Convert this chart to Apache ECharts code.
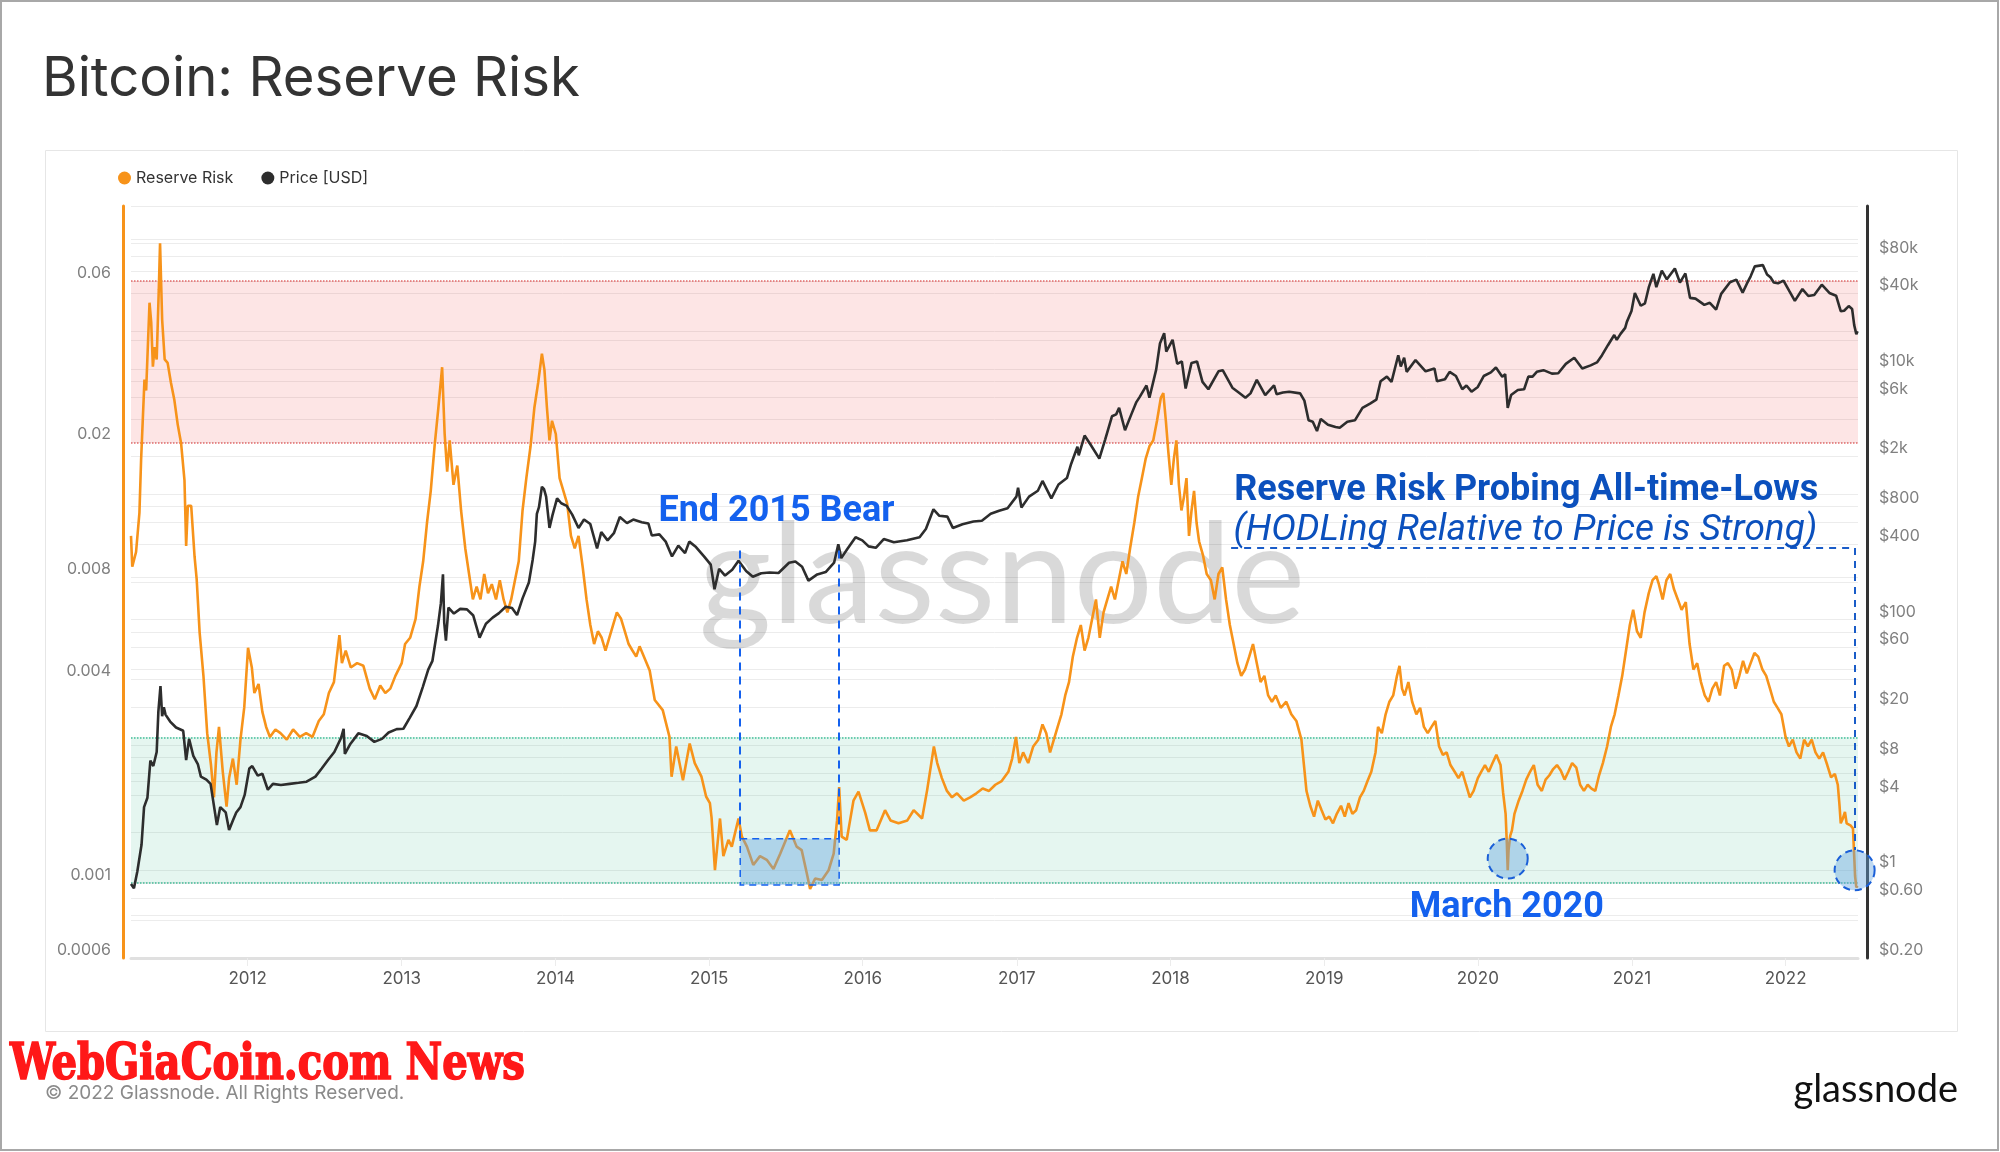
<!DOCTYPE html>
<html><head><meta charset="utf-8">
<script src="https://cdn.jsdelivr.net/npm/echarts@6/dist/echarts.min.js"></script>
<style>html,body{margin:0;padding:0;background:#fff}#c{width:2000px;height:1152px}</style>
</head><body><div id="c"></div>
<script>
// ---------------- data ----------------
const reserveRisk = [
['2011-03-30',0.0106],['2011-04-02',0.0086],['2011-04-11',0.0095],['2011-04-19',0.0124],['2011-04-23',0.0178],['2011-05-01',0.0307],['2011-05-05',0.0285],['2011-05-13',0.0518],['2011-05-17',0.0453],['2011-05-21',0.0335],['2011-05-25',0.0383],['2011-05-30',0.0352],['2011-06-04',0.0566],['2011-06-07',0.0776],['2011-06-12',0.0461],['2011-06-18',0.0352],['2011-06-25',0.0344],['2011-07-03',0.0300],['2011-07-11',0.0267],['2011-07-19',0.0226],['2011-07-27',0.0199],['2011-08-04',0.0155],['2011-08-08',0.0099],['2011-08-12',0.0130],['2011-08-20',0.0130],['2011-08-28',0.0092],['2011-09-02',0.0079],['2011-09-09',0.0055],['2011-09-18',0.0041],['2011-09-27',0.00277],['2011-10-06',0.00223],['2011-10-13',0.00179],['2011-10-19',0.00243],['2011-10-25',0.00289],['2011-11-03',0.00213],['2011-11-12',0.00168],['2011-11-18',0.00204],['2011-11-27',0.00233],['2011-12-06',0.00195],['2011-12-15',0.00265],['2011-12-24',0.00330],
['2012-01-02',0.00495],['2012-01-11',0.00433],['2012-01-17',0.00364],['2012-01-27',0.00387],['2012-02-05',0.0032],['2012-02-14',0.00289],['2012-02-23',0.0027],['2012-03-07',0.00284],['2012-03-19',0.00277],['2012-04-03',0.00265],['2012-04-18',0.00284],['2012-05-04',0.0027],['2012-05-19',0.00277],['2012-06-03',0.0027],['2012-06-18',0.00301],['2012-06-30',0.00315],['2012-07-12',0.00364],['2012-07-24',0.00392],['2012-08-06',0.0054],['2012-08-12',0.00446],['2012-08-21',0.00486],['2012-09-02',0.00433],['2012-09-17',0.00446],['2012-10-02',0.00438],['2012-10-17',0.00375],['2012-10-29',0.00349],['2012-11-11',0.00383],['2012-11-23',0.00364],['2012-12-05',0.00375],['2012-12-17',0.00409],
['2013-01-01',0.00446],['2013-01-09',0.00508],['2013-01-21',0.0053],['2013-02-03',0.00603],['2013-02-12',0.0075],['2013-02-21',0.00892],['2013-03-02',0.01157],['2013-03-11',0.0144],['2013-03-20',0.0195],['2013-03-29',0.0253],['2013-04-07',0.0334],['2013-04-13',0.0212],['2013-04-19',0.0164],['2013-04-25',0.0203],['2013-05-04',0.015],['2013-05-13',0.0171],['2013-05-22',0.0126],['2013-06-01',0.00973],['2013-06-10',0.00818],['2013-06-19',0.00688],['2013-06-28',0.0075],['2013-07-07',0.00688],['2013-07-16',0.00818],['2013-07-25',0.00718],['2013-08-03',0.00763],['2013-08-13',0.00688],['2013-08-22',0.00784],['2013-08-31',0.00688],['2013-09-09',0.0063],['2013-09-18',0.00688],['2013-09-27',0.00784],['2013-10-06',0.00892],['2013-10-15',0.0126],['2013-10-24',0.0157],['2013-11-03',0.0195],['2013-11-12',0.0253],['2013-11-21',0.03],['2013-11-30',0.0366],['2013-12-06',0.0328],['2013-12-12',0.0253],['2013-12-18',0.0203],['2013-12-24',0.0232],
['2014-01-02',0.0212],['2014-01-11',0.0157],['2014-01-20',0.0144],['2014-01-29',0.0132],['2014-02-07',0.0106],['2014-02-16',0.00973],['2014-02-25',0.0106],['2014-03-07',0.00855],['2014-03-16',0.00688],['2014-03-25',0.00578],['2014-04-03',0.00508],['2014-04-12',0.00554],['2014-04-21',0.0053],['2014-04-30',0.00486],['2014-05-09',0.0053],['2014-05-18',0.00578],['2014-05-27',0.0063],['2014-06-06',0.00603],['2014-06-15',0.00554],['2014-06-24',0.00508],['2014-07-03',0.00486],['2014-07-12',0.00466],['2014-07-20',0.005],['2014-08-13',0.00424],['2014-08-25',0.00347],['2014-09-13',0.00324],['2014-09-29',0.0027],['2014-10-04',0.00206],['2014-10-15',0.00253],['2014-10-31',0.00201],['2014-11-16',0.00258],['2014-11-28',0.00226],['2014-12-14',0.00206],['2014-12-25',0.0018],
['2015-01-03',0.00172],['2015-01-07',0.00156],['2015-01-15',0.00109],['2015-01-27',0.00155],['2015-02-04',0.0012],['2015-02-16',0.00134],['2015-02-24',0.00128],['2015-03-12',0.00155],['2015-03-20',0.00137],['2015-04-01',0.00128],['2015-04-16',0.00113],['2015-05-02',0.0012],['2015-05-18',0.00117],['2015-06-03',0.0011],['2015-06-19',0.00122],['2015-07-12',0.00143],['2015-07-28',0.00128],['2015-08-09',0.00125],['2015-08-21',0.00107],['2015-08-29',0.00096],['2015-09-10',0.00103],['2015-09-26',0.00102],['2015-10-12',0.00109],['2015-10-24',0.00122],['2015-11-01',0.00153],['2015-11-06',0.00192],['2015-11-12',0.00137],['2015-11-24',0.00134],['2015-12-10',0.00175],['2015-12-22',0.00186],
['2016-01-07',0.00161],['2016-01-18',0.00143],['2016-02-03',0.00143],['2016-02-23',0.00164],['2016-03-07',0.00153],['2016-03-26',0.0015],['2016-04-16',0.00153],['2016-05-01',0.00164],['2016-05-21',0.00155],['2016-06-02',0.00188],['2016-06-18',0.00253],['2016-06-26',0.00226],['2016-07-07',0.00204],['2016-07-19',0.00187],['2016-07-31',0.00179],['2016-08-12',0.00184],['2016-08-28',0.00175],['2016-09-12',0.00179],['2016-09-27',0.00184],['2016-10-12',0.0019],['2016-10-27',0.00187],['2016-11-11',0.00195],['2016-11-26',0.002],['2016-12-12',0.00213],['2016-12-21',0.00233],['2016-12-30',0.0027],
['2017-01-07',0.00226],['2017-01-16',0.00243],['2017-01-28',0.00226],['2017-02-09',0.00253],['2017-02-21',0.00265],['2017-03-03',0.00294],['2017-03-12',0.00277],['2017-03-21',0.00243],['2017-03-30',0.00265],['2017-04-08',0.00289],['2017-04-17',0.00315],['2017-04-26',0.00358],['2017-05-05',0.00392],['2017-05-14',0.00466],['2017-05-24',0.0053],['2017-06-02',0.00578],['2017-06-11',0.00486],['2017-06-20',0.0053],['2017-06-29',0.00603],['2017-07-08',0.00688],['2017-07-17',0.0053],['2017-07-26',0.0063],['2017-08-04',0.00688],['2017-08-13',0.0075],['2017-08-22',0.00688],['2017-08-31',0.00784],['2017-09-09',0.00892],['2017-09-18',0.00818],['2017-09-27',0.00973],['2017-10-07',0.01157],['2017-10-16',0.0138],['2017-10-25',0.0157],['2017-11-03',0.0179],['2017-11-12',0.0195],['2017-11-21',0.0203],['2017-11-30',0.0232],['2017-12-09',0.0271],['2017-12-15',0.028],['2017-12-21',0.0232],['2017-12-27',0.0187],
['2018-01-03',0.015],['2018-01-09',0.0179],['2018-01-15',0.0203],['2018-01-21',0.015],['2018-01-27',0.0126],['2018-02-02',0.0138],['2018-02-08',0.0157],['2018-02-14',0.0106],['2018-02-20',0.0126],['2018-02-26',0.0144],['2018-03-04',0.01157],['2018-03-10',0.0102],['2018-03-19',0.00932],['2018-03-28',0.00818],['2018-04-07',0.00784],['2018-04-16',0.00688],['2018-04-25',0.00818],['2018-05-04',0.00855],['2018-05-13',0.00688],['2018-05-22',0.00578],['2018-05-31',0.00508],['2018-06-09',0.00446],['2018-06-18',0.00409],['2018-06-27',0.00427],['2018-07-07',0.00466],['2018-07-16',0.00508],['2018-07-25',0.00446],['2018-08-03',0.00392],['2018-08-12',0.00409],['2018-08-21',0.00358],['2018-08-30',0.00343],['2018-09-08',0.00358],['2018-09-20',0.00329],['2018-10-03',0.00343],['2018-10-15',0.00315],['2018-10-27',0.00301],['2018-11-08',0.00265],['2018-11-14',0.00223],['2018-11-20',0.00187],['2018-11-29',0.00169],['2018-12-08',0.00157],['2018-12-17',0.00175],['2018-12-26',0.00164],
['2019-01-04',0.00154],['2019-01-13',0.00157],['2019-01-22',0.0015],['2019-01-31',0.0016],['2019-02-10',0.00169],['2019-02-19',0.00157],['2019-02-28',0.00172],['2019-03-09',0.0016],['2019-03-18',0.00164],['2019-03-27',0.00179],['2019-04-05',0.00187],['2019-04-14',0.002],['2019-04-23',0.00213],['2019-05-03',0.00243],['2019-05-09',0.00289],['2019-05-18',0.00277],['2019-05-27',0.00315],['2019-06-05',0.00343],['2019-06-14',0.00358],['2019-06-23',0.00409],['2019-06-29',0.00438],['2019-07-05',0.00375],['2019-07-11',0.00358],['2019-07-20',0.00392],['2019-07-29',0.00343],['2019-08-08',0.00315],['2019-08-17',0.00329],['2019-08-26',0.00289],['2019-09-04',0.00277],['2019-09-13',0.00289],['2019-09-22',0.00301],['2019-10-01',0.00253],['2019-10-10',0.00239],['2019-10-19',0.00243],['2019-10-28',0.00223],['2019-11-07',0.00213],['2019-11-16',0.00204],['2019-11-25',0.00213],['2019-12-04',0.00195],['2019-12-13',0.00179],['2019-12-22',0.00187],
['2020-01-01',0.00204],['2020-01-09',0.00213],['2020-01-18',0.00223],['2020-01-27',0.00213],['2020-02-05',0.00226],['2020-02-14',0.00239],['2020-02-24',0.00223],['2020-03-01',0.00185],['2020-03-07',0.0016],['2020-03-10',0.0013],['2020-03-12',0.00109],['2020-03-14',0.00125],['2020-03-18',0.00138],['2020-03-22',0.00143],['2020-03-28',0.0016],['2020-04-07',0.00175],['2020-04-16',0.00187],['2020-04-25',0.00202],['2020-05-04',0.00213],['2020-05-13',0.00223],['2020-05-22',0.00195],['2020-06-01',0.00187],['2020-06-10',0.00202],['2020-06-19',0.00208],['2020-06-28',0.00217],['2020-07-07',0.00223],['2020-07-16',0.00215],['2020-07-25',0.00202],['2020-08-03',0.00213],['2020-08-12',0.00226],['2020-08-22',0.00219],['2020-08-31',0.00195],['2020-09-09',0.00187],['2020-09-18',0.00195],['2020-09-27',0.0019],['2020-10-06',0.00187],['2020-10-15',0.00208],['2020-10-24',0.00226],['2020-11-03',0.00253],['2020-11-12',0.00289],['2020-11-21',0.00315],['2020-11-30',0.00358],['2020-12-09',0.00409],['2020-12-18',0.00486],['2020-12-27',0.00578],
['2021-01-04',0.00641],['2021-01-13',0.00554],['2021-01-22',0.0053],['2021-01-31',0.0063],['2021-02-10',0.00718],['2021-02-19',0.00784],['2021-02-28',0.00806],['2021-03-06',0.00763],['2021-03-15',0.00688],['2021-03-24',0.00784],['2021-04-02',0.00818],['2021-04-11',0.00737],['2021-04-20',0.00688],['2021-04-29',0.00641],['2021-05-09',0.00676],['2021-05-18',0.00508],['2021-05-27',0.00427],['2021-06-05',0.00446],['2021-06-14',0.00392],['2021-06-23',0.00358],['2021-07-02',0.00343],['2021-07-11',0.00375],['2021-07-20',0.00392],['2021-07-29',0.00358],['2021-08-08',0.00438],['2021-08-17',0.00446],['2021-08-26',0.00427],['2021-09-04',0.00375],['2021-09-13',0.00409],['2021-09-22',0.00453],['2021-10-01',0.00416],['2021-10-10',0.00446],['2021-10-19',0.00478],['2021-10-28',0.00466],['2021-11-07',0.00427],['2021-11-16',0.00409],['2021-11-25',0.00375],['2021-12-04',0.00343],['2021-12-13',0.00329],['2021-12-22',0.00315],
['2022-01-01',0.0027],['2022-01-09',0.00253],['2022-01-18',0.00265],['2022-01-27',0.00243],['2022-02-05',0.00233],['2022-02-14',0.00265],['2022-02-23',0.00253],['2022-03-04',0.00265],['2022-03-13',0.00243],['2022-03-22',0.00233],['2022-03-31',0.00243],['2022-04-10',0.00223],['2022-04-19',0.00205],['2022-04-28',0.0021],['2022-05-05',0.00195],['2022-05-09',0.0017],['2022-05-12',0.0015],['2022-05-17',0.00155],['2022-05-22',0.00162],['2022-05-26',0.0015],['2022-06-04',0.00148],['2022-06-10',0.00145],['2022-06-13',0.0012],['2022-06-15',0.00105],['2022-06-18',0.00097],['2022-06-21',0.00098]
];

const priceUsd = [
['2011-03-30',0.78],['2011-04-06',0.72],['2011-04-14',0.98],['2011-04-24',1.6],['2011-04-30',3.2],['2011-05-08',3.8],['2011-05-15',7.5],['2011-05-22',6.8],['2011-05-30',8.8],['2011-06-03',18.5],['2011-06-08',29.6],['2011-06-12',17],['2011-06-16',20],['2011-06-20',17.5],['2011-07-01',15.4],['2011-07-15',13.8],['2011-08-01',13],['2011-08-08',7.6],['2011-08-15',11.2],['2011-08-25',8.2],['2011-09-05',7],['2011-09-12',5.6],['2011-09-25',5.3],['2011-10-05',4.9],['2011-10-20',2.3],['2011-10-28',3.2],['2011-11-10',2.9],['2011-11-18',2.1],['2011-11-27',2.5],['2011-12-05',2.9],['2011-12-15',3.2],['2011-12-25',4.0],
['2012-01-05',6.5],['2012-01-12',6.8],['2012-01-25',5.7],['2012-02-05',5.9],['2012-02-18',4.4],['2012-03-01',4.9],['2012-03-20',4.8],['2012-04-10',4.9],['2012-05-01',5.0],['2012-05-20',5.1],['2012-06-10',5.6],['2012-06-25',6.5],['2012-07-10',7.6],['2012-07-25',8.8],['2012-08-10',11.4],['2012-08-16',13.5],['2012-08-19',8.5],['2012-09-01',10.2],['2012-09-20',12.4],['2012-10-10',11.8],['2012-10-28',10.6],['2012-11-15',11.2],['2012-12-01',12.6],['2012-12-20',13.4],
['2013-01-05',13.5],['2013-01-20',16.5],['2013-02-05',20.5],['2013-02-20',29],['2013-03-05',40],['2013-03-15',47],['2013-03-28',89],['2013-04-04',135],['2013-04-09',230],['2013-04-12',95],['2013-04-16',68],['2013-04-22',125],['2013-05-05',112],['2013-05-20',122],['2013-06-05',121],['2013-06-20',108],['2013-07-05',72],['2013-07-20',93],['2013-08-05',104],['2013-08-20',113],['2013-09-05',127],['2013-09-20',124],['2013-10-02',109],['2013-10-15',148],['2013-10-30',198],['2013-11-08',300],['2013-11-14',420],['2013-11-18',700],['2013-11-23',790],['2013-11-30',1150],['2013-12-05',1100],['2013-12-10',960],['2013-12-18',540],['2013-12-25',680],
['2014-01-05',930],['2014-01-15',850],['2014-01-28',810],['2014-02-10',690],['2014-02-25',540],['2014-03-10',630],['2014-03-25',580],['2014-04-10',370],['2014-04-20',500],['2014-05-05',430],['2014-05-20',490],['2014-06-03',660],['2014-06-20',590],['2014-07-05',630],['2014-07-25',600],['2014-08-10',585],['2014-08-18',470],['2014-09-05',480],['2014-09-20',420],['2014-10-05',320],['2014-10-20',390],['2014-11-05',340],['2014-11-15',420],['2014-12-01',380],['2014-12-20',320],
['2015-01-05',275],['2015-01-14',175],['2015-01-25',255],['2015-02-08',225],['2015-02-25',250],['2015-03-12',295],['2015-03-30',245],['2015-04-15',220],['2015-05-05',235],['2015-05-25',238],['2015-06-15',236],['2015-07-10',285],['2015-07-25',292],['2015-08-10',265],['2015-08-25',205],['2015-09-15',230],['2015-10-05',240],['2015-10-25',285],['2015-11-04',400],['2015-11-11',310],['2015-11-25',365],['2015-12-15',455],['2015-12-31',430],
['2016-01-15',385],['2016-02-01',375],['2016-02-20',440],['2016-03-15',415],['2016-04-15',430],['2016-05-15',455],['2016-05-30',530],['2016-06-17',760],['2016-07-01',675],['2016-07-20',665],['2016-08-02',540],['2016-08-25',578],['2016-09-20',608],['2016-10-10',617],['2016-10-31',700],['2016-11-20',740],['2016-12-10',775],['2016-12-31',960],
['2017-01-04',1130],['2017-01-12',785],['2017-01-30',960],['2017-02-20',1070],['2017-03-03',1280],['2017-03-24',930],['2017-04-10',1200],['2017-04-30',1350],['2017-05-10',1750],['2017-05-25',2400],['2017-05-28',2050],['2017-06-11',2950],['2017-06-25',2500],['2017-07-16',1930],['2017-07-30',2750],['2017-08-15',4200],['2017-08-25',4350],['2017-09-01',4900],['2017-09-15',3250],['2017-09-30',4350],['2017-10-12',5450],['2017-10-20',6000],['2017-11-05',7400],['2017-11-12',5900],['2017-11-28',9900],['2017-12-07',16000],['2017-12-17',19300],['2017-12-22',13800],
['2018-01-06',17100],['2018-01-17',11000],['2018-01-28',11500],['2018-02-06',7000],['2018-02-20',11200],['2018-03-05',11500],['2018-03-18',7900],['2018-04-01',6900],['2018-04-25',9600],['2018-05-05',9800],['2018-05-28',7100],['2018-06-12',6500],['2018-06-28',5900],['2018-07-10',6400],['2018-07-25',8200],['2018-08-14',6200],['2018-09-04',7400],['2018-09-10',6300],['2018-09-25',6500],['2018-10-10',6600],['2018-11-05',6400],['2018-11-15',5600],['2018-11-25',3900],['2018-12-05',3800],['2018-12-15',3200],['2018-12-24',4000],
['2019-01-10',3600],['2019-01-28',3450],['2019-02-07',3400],['2019-02-25',3800],['2019-03-15',3900],['2019-04-02',4900],['2019-04-20',5300],['2019-05-05',5700],['2019-05-15',8000],['2019-05-30',8700],['2019-06-10',7900],['2019-06-26',12900],['2019-07-02',10500],['2019-07-10',12300],['2019-07-16',9500],['2019-08-06',11800],['2019-08-30',9600],['2019-09-20',10100],['2019-09-26',8000],['2019-10-15',8300],['2019-10-26',9500],['2019-11-10',8800],['2019-11-25',6900],['2019-12-05',7400],['2019-12-17',6600],
['2020-01-01',7200],['2020-01-15',8800],['2020-02-01',9400],['2020-02-13',10300],['2020-02-28',8700],['2020-03-06',9100],['2020-03-12',4900],['2020-03-20',6200],['2020-04-05',6800],['2020-04-20',6900],['2020-04-30',8700],['2020-05-10',8700],['2020-05-20',9500],['2020-06-05',9800],['2020-06-25',9200],['2020-07-10',9250],['2020-07-28',11000],['2020-08-17',12300],['2020-09-05',10100],['2020-09-25',10700],['2020-10-10',11300],['2020-10-22',12900],['2020-11-05',15500],['2020-11-20',18700],['2020-11-26',17100],['2020-12-05',19100],['2020-12-16',21300],['2020-12-20',23800],['2020-12-31',29000],
['2021-01-08',40500],['2021-01-22',32000],['2021-02-01',33500],['2021-02-10',44800],['2021-02-21',57500],['2021-02-28',45000],['2021-03-13',61000],['2021-03-25',52000],['2021-04-13',63500],['2021-04-25',49000],['2021-05-08',58000],['2021-05-19',37000],['2021-06-01',36500],['2021-06-22',32500],['2021-07-05',33800],['2021-07-20',29800],['2021-08-01',39800],['2021-08-22',49300],['2021-09-06',51700],['2021-09-21',40700],['2021-10-01',48000],['2021-10-10',54900],['2021-10-20',66000],['2021-11-08',67500],['2021-11-18',56900],['2021-11-26',54000],['2021-12-04',49000],['2021-12-14',48300],['2021-12-27',50700],
['2022-01-10',41800],['2022-01-23',35000],['2022-02-10',43500],['2022-02-24',38300],['2022-03-10',39000],['2022-03-28',47100],['2022-04-15',40500],['2022-05-01',38500],['2022-05-12',29000],['2022-05-20',29200],['2022-05-31',31800],['2022-06-08',30200],['2022-06-13',22400],['2022-06-18',19000],['2022-06-21',20000]
];

// axis ticks / labels
const yearTicks = ['2012-01-01','2013-01-01','2014-01-01','2015-01-01','2016-01-01','2017-01-01','2018-01-01','2019-01-01','2020-01-01','2021-01-01','2022-01-01'];
const xRange = ['2011-03-30', '2022-06-22'];
const leftRange = [0.0006, 0.1];
const leftTickLabels = [0.0006, 0.001, 0.004, 0.008, 0.02, 0.06];
const leftGridValues = [0.0006, 0.0008, 0.001, 0.002, 0.004, 0.006, 0.008, 0.01, 0.02, 0.04, 0.06, 0.08, 0.1];
const rightRange = [0.2, 200000];
const rightTickLabels = [0.2, 0.6, 1, 4, 8, 20, 60, 100, 400, 800, 2000, 6000, 10000, 40000, 80000];
const rightGridValues = [0.2, 0.4, 0.6, 0.8, 1, 2, 4, 6, 8, 10, 20, 40, 60, 80, 100, 200, 400, 600, 800, 1000, 2000, 4000, 6000, 8000, 10000, 20000, 40000, 60000, 80000, 100000, 200000];

// zones and annotations (data coordinates)
const redZone = [0.02, 0.06];
const greenZone = [0.001, 0.0027];
const bearWindow = ['2015-03-16', '2015-11-06'];
const bearBox = [0.000986, 0.00135];
const bearLineTop = 0.0096;
const hodlCallout = {from: '2018-05-25', to: '2022-06-14', level: 0.00976, bottom: 0.00125};
const circleMarks = [['2020-03-12', 0.00118], ['2022-06-14', 0.00109]];
const notes = [
  {text: 'End 2015 Bear', at: ['2015-06-10', 0.01245], kind: 'bright'},
  {text: 'Reserve Risk Probing All-time-Lows', at: ['2020-04-25', 0.0144], kind: 'dark'},
  {text: '(HODLing Relative to Price is Strong)', at: ['2020-04-23', 0.0110], kind: 'italic'},
  {text: 'March 2020', at: ['2020-03-10', 0.000843], kind: 'bright'}
];

// ---------------- chart ----------------
const T = s => new Date(s + 'T00:00:00').getTime();
const L = Math.log10;
const near = (arr, v) => arr.find(t => Math.abs(L(t) - v) < 1e-6);
const fmtLeft = v => { const m = near(leftTickLabels, v); return m === undefined ? '' : String(m); };
const fmtRight = v => {
  const m = near(rightTickLabels, v);
  if (m === undefined) return '';
  if (m >= 1000) return '$' + (m / 1000) + 'k';
  if (m < 1) return '$' + m.toFixed(2);
  return '$' + m;
};

const ORANGE = '#f7931a';
const BRIGHT = '#1461ee';
const DARK = '#0b50bd';
const FILLBLUE = 'rgba(100,165,225,0.42)';
const labelFont = 'Inter';

const chart = echarts.init(document.getElementById('c'), null, {renderer: 'canvas'});

const noteStyle = k => ({
  show: true, position: 'inside', fontFamily: 'Roboto', fontSize: k === 'italic' ? 37 : 36,
  fontWeight: k === 'italic' ? 'normal' : 'bold',
  fontStyle: k === 'italic' ? 'italic' : 'normal',
  color: k === 'bright' ? BRIGHT : DARK
});

const option = {
  animation: false,
  backgroundColor: '#fff',
  grid: {left: 131, right: 142, top: 206, bottom: 194},
  legend: {
    left: 113, top: 165, icon: 'circle', itemWidth: 13, itemHeight: 13, itemGap: 28,
    textStyle: {fontSize: 16, color: '#333', fontFamily: labelFont},
    data: ['Reserve Risk', 'Price [USD]']
  },
  xAxis: {
    type: 'value', min: T(xRange[0]), max: T(xRange[1]),
    axisLine: {show: true, onZero: false, lineStyle: {color: '#e0e0e0', width: 3}},
    axisTick: {show: true, customValues: yearTicks.map(T), length: 8, lineStyle: {color: '#ececec', width: 1}},
    axisLabel: {customValues: yearTicks.map(T), formatter: v => String(new Date(v).getFullYear()), fontSize: 17, color: '#555', fontFamily: labelFont, margin: 12},
    splitLine: {show: false}
  },
  yAxis: [
    {
      type: 'value', position: 'left', offset: 8, min: L(leftRange[0]), max: L(leftRange[1]),
      axisLine: {show: true, onZero: false, lineStyle: {color: ORANGE, width: 3}},
      axisTick: {show: false, customValues: leftGridValues.map(L)},
      axisLabel: {customValues: leftTickLabels.map(L), formatter: fmtLeft, color: '#808080', fontSize: 16, fontFamily: labelFont, margin: 12, verticalAlign: 'bottom', lineHeight: 16},
      splitLine: {show: true, lineStyle: {color: '#ececec', width: 1}}
    },
    {
      type: 'value', position: 'right', offset: 9, min: L(rightRange[0]), max: L(rightRange[1]),
      axisLine: {show: true, onZero: false, lineStyle: {color: '#333', width: 3}},
      axisTick: {show: false, customValues: rightGridValues.map(L)},
      axisLabel: {customValues: rightTickLabels.map(L), formatter: fmtRight, color: '#808080', fontSize: 16, fontFamily: labelFont, margin: 12, verticalAlign: 'bottom', lineHeight: 16},
      splitLine: {show: true, lineStyle: {color: '#ececec', width: 1}}
    }
  ],
  graphic: [
    {type: 'rect', silent: true, z: -10, shape: {x: 1, y: 1, width: 1997, height: 1149}, style: {fill: 'none', stroke: '#a8a8a8', lineWidth: 2}},
    {type: 'rect', silent: true, z: -10, shape: {x: 45.5, y: 150.5, width: 1912, height: 881}, style: {fill: 'none', stroke: '#e6e6e6', lineWidth: 1}},
    {type: 'text', silent: true, x: 42, y: 80, style: {text: 'Bitcoin: Reserve Risk', fontFamily: 'Inter', fontSize: 54.5, fill: '#333', align: 'left', verticalAlign: 'middle'}},
    {type: 'text', silent: true, z: 1, x: 1002, y: 578, style: {text: 'glassnode', fontFamily: 'Lato', fontSize: 140, fill: 'rgba(0,0,0,0.15)', align: 'center', verticalAlign: 'middle'}},
    {type: 'text', silent: true, x: 45, y: 1093, style: {text: '\u00a9 2022 Glassnode. All Rights Reserved.', fontFamily: 'Inter', fontSize: 19, fill: '#8a8a8a', align: 'left', verticalAlign: 'middle'}},
    {type: 'text', silent: true, x: 10, y: 1066, scaleX: 0.875, style: {text: 'WebGiaCoin.com News', fontFamily: 'DejaVu Serif Condensed', fontWeight: 'bold', fontSize: 51, fill: '#ff1818', stroke: '#ff1818', lineWidth: 1.6, align: 'left', verticalAlign: 'middle'}},
    {type: 'text', silent: true, x: 1958, y: 1090, style: {text: 'glassnode', fontFamily: 'Lato', fontSize: 38, fill: '#111', align: 'right', verticalAlign: 'middle'}}
  ],
  series: [
    {
      name: 'Zones', type: 'line', yAxisIndex: 0, data: [], silent: true, z: 1,
      markArea: {silent: true, z: 1, data: [
        [{yAxis: L(redZone[1]), itemStyle: {color: 'rgba(240,70,70,0.14)'}}, {yAxis: L(redZone[0])}],
        [{yAxis: L(greenZone[1]), itemStyle: {color: 'rgba(40,180,130,0.12)'}}, {yAxis: L(greenZone[0])}]
      ]},
      markLine: {silent: true, z: 1, symbol: ['none', 'none'], label: {show: false}, data: [
        {yAxis: L(redZone[1]), lineStyle: {color: 'rgba(225,80,80,0.85)', type: 'dotted', width: 1.5}},
        {yAxis: L(redZone[0]), lineStyle: {color: 'rgba(225,80,80,0.85)', type: 'dotted', width: 1.5}},
        {yAxis: L(greenZone[1]), lineStyle: {color: 'rgba(50,185,145,0.9)', type: 'dotted', width: 1.5}},
        {yAxis: L(greenZone[0]), lineStyle: {color: 'rgba(50,185,145,0.9)', type: 'dotted', width: 1.5}}
      ]}
    },
    {
      name: 'Reserve Risk', type: 'line', yAxisIndex: 0, z: 3, showSymbol: false, symbol: 'none',
      color: ORANGE, lineStyle: {color: ORANGE, width: 2.6},
      data: reserveRisk.map(d => [T(d[0]), L(d[1])])
    },
    {
      name: 'Price [USD]', type: 'line', yAxisIndex: 1, z: 3, showSymbol: false, symbol: 'none',
      color: '#2d2d2d', lineStyle: {color: '#2d2d2d', width: 2.6},
      data: priceUsd.map(d => [T(d[0]), L(d[1])])
    },
    {
      name: 'Notes', type: 'line', yAxisIndex: 0, data: [], silent: true, z: 6,
      markArea: {silent: true, z: 6, data: [
        [{xAxis: T(bearWindow[0]), yAxis: L(bearBox[1]), itemStyle: {color: FILLBLUE, borderColor: BRIGHT, borderWidth: 1.5, borderType: [7, 5]}},
         {xAxis: T(bearWindow[1]), yAxis: L(bearBox[0])}]
      ]},
      markLine: {silent: true, z: 6, symbol: ['none', 'none'], label: {show: false}, data: [
        [{coord: [T(bearWindow[0]), L(bearLineTop)], lineStyle: {color: BRIGHT, type: [8, 6], width: 2}}, {coord: [T(bearWindow[0]), L(bearBox[1])]}],
        [{coord: [T(bearWindow[1]), L(bearLineTop)], lineStyle: {color: BRIGHT, type: [8, 6], width: 2}}, {coord: [T(bearWindow[1]), L(bearBox[1])]}],
        [{coord: [T(hodlCallout.from), L(hodlCallout.level)], lineStyle: {color: '#1a5cc8', type: [7, 6], width: 2}}, {coord: [T(hodlCallout.to), L(hodlCallout.level)]}],
        [{coord: [T(hodlCallout.to), L(hodlCallout.level)], lineStyle: {color: '#1a5cc8', type: [7, 6], width: 2}}, {coord: [T(hodlCallout.to), L(hodlCallout.bottom)]}]
      ]},
      markPoint: {silent: true, z: 7, data: [
        ...circleMarks.map(c => ({coord: [T(c[0]), L(c[1])], symbol: 'circle', symbolSize: 40,
          itemStyle: {color: FILLBLUE, borderColor: '#1a5fd8', borderWidth: 2, borderType: [7, 5]}, label: {show: false}})),
        ...notes.map(n => ({coord: [T(n.at[0]), L(n.at[1])], symbol: 'circle', symbolSize: 1,
          itemStyle: {color: 'rgba(0,0,0,0)'}, label: Object.assign({formatter: n.text}, noteStyle(n.kind))}))
      ]}
    }
  ]
};
chart.setOption(option);
</script>
</body></html>
